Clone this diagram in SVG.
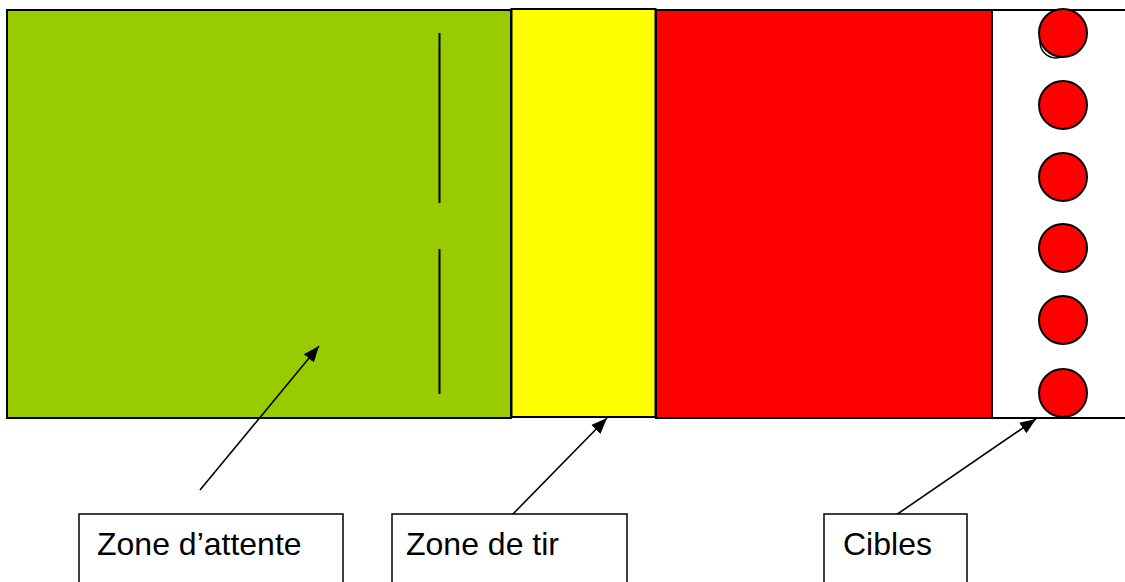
<svg xmlns="http://www.w3.org/2000/svg" width="1125" height="582" viewBox="0 0 1125 582">
<defs>
<style>
.z{stroke:#000;stroke-width:2}
.lbl{fill:#fff;stroke:#000;stroke-width:1.5}
.t{font-family:"Liberation Sans",Arial,sans-serif;font-size:32px;fill:#000}
.c{fill:#f00;stroke:#000;stroke-width:2}
.ln{stroke:#000;stroke-width:1.6;fill:none}
</style>
<marker id="a" viewBox="0 0 10 10" refX="10" refY="5" markerWidth="16" markerHeight="16" markerUnits="userSpaceOnUse" orient="auto">
<path d="M0,1 L10,5 L0,9 z" fill="#000"/>
</marker>
</defs>
<rect width="1125" height="582" fill="#fff"/>
<g id="zone-attente">
<rect class="z" x="7" y="10" width="504" height="408" fill="#99cc00"/>
<line x1="439.5" y1="33" x2="439.5" y2="203" stroke="#000" stroke-width="2"/>
<line x1="439.5" y1="249" x2="439.5" y2="394" stroke="#000" stroke-width="2"/>
</g>
<g id="zone-tir">
<rect class="z" x="511.5" y="9" width="144" height="408" fill="#ffff00"/>
</g>
<g id="zone-rouge">
<rect class="z" x="656" y="10" width="336" height="408" fill="#ff0000"/>
</g>
<g id="cibles-zone">
<line x1="992" y1="10" x2="1125" y2="10" stroke="#000" stroke-width="2"/>
<line x1="992" y1="418" x2="1125" y2="418" stroke="#000" stroke-width="2"/>
<circle cx="1056" cy="42" r="16" fill="#fff" stroke="#000" stroke-width="1.5"/>
<circle class="c" cx="1063" cy="33" r="24"/>
<circle class="c" cx="1063" cy="105" r="24"/>
<circle class="c" cx="1063" cy="177" r="24"/>
<circle class="c" cx="1063" cy="248" r="24"/>
<circle class="c" cx="1063" cy="320" r="24"/>
<circle class="c" cx="1063" cy="393" r="24"/>
</g>
<g id="connectors">
<line class="ln" x1="200" y1="490" x2="319" y2="346" marker-end="url(#a)"/>
<line class="ln" x1="512" y1="515" x2="607" y2="418" marker-end="url(#a)"/>
<line class="ln" x1="896" y1="515" x2="1036" y2="419" marker-end="url(#a)"/>
</g>
<g id="label-attente">
<rect class="lbl" x="79" y="514" width="264" height="80"/>
<text class="t" x="97" y="555">Zone d’attente</text>
</g>
<g id="label-tir">
<rect class="lbl" x="392" y="514" width="235" height="80"/>
<text class="t" x="406" y="555">Zone de tir</text>
</g>
<g id="label-cibles">
<rect class="lbl" x="824" y="514" width="143" height="80"/>
<text class="t" x="843" y="555">Cibles</text>
</g>
</svg>
